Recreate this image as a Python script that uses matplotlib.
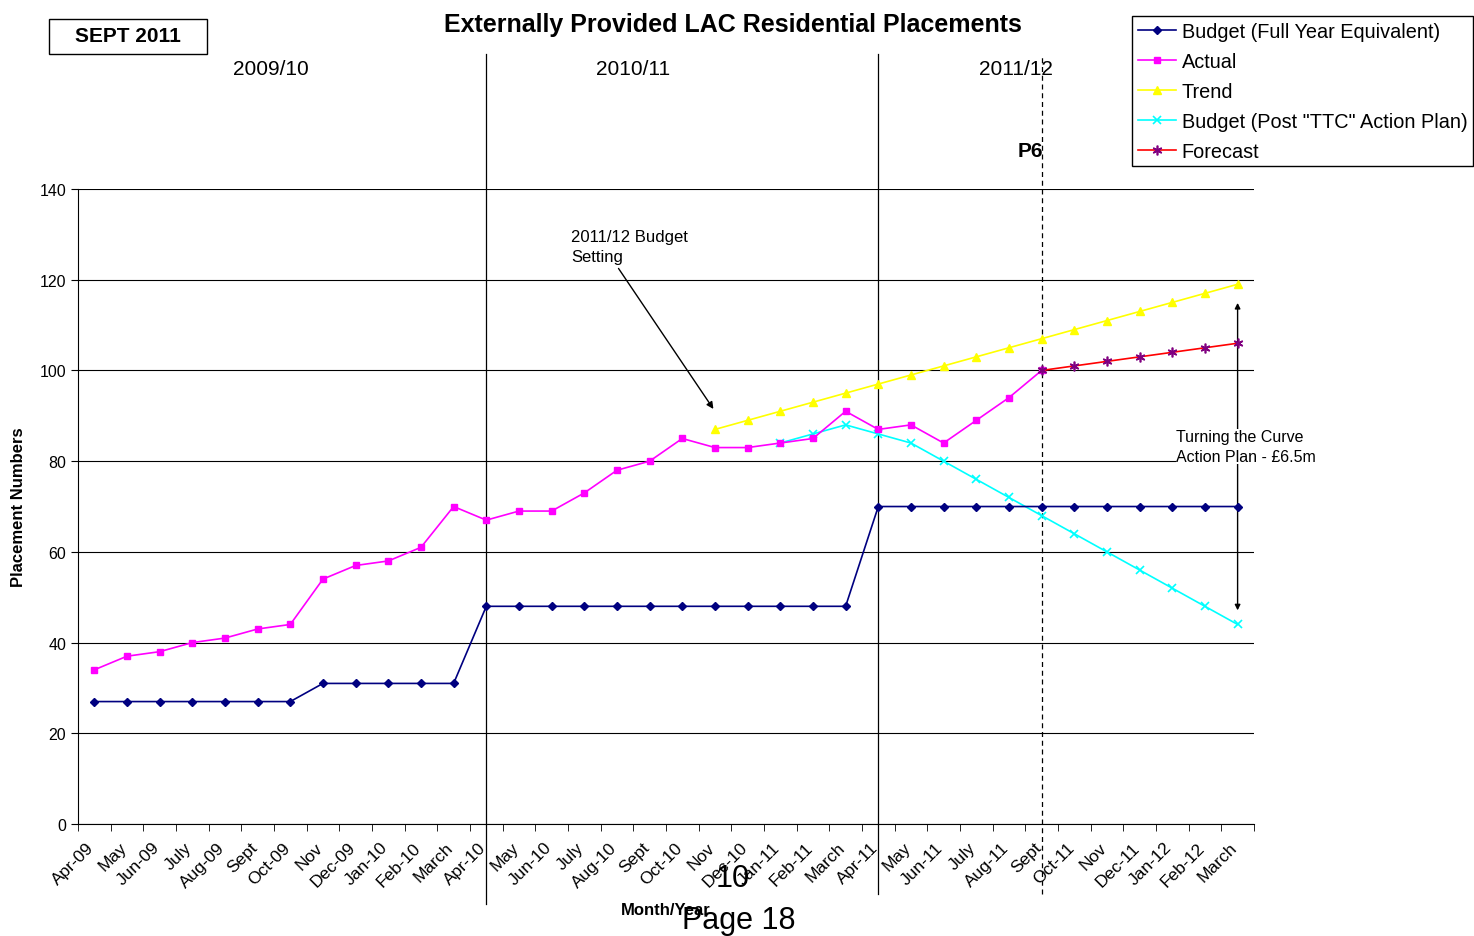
#! /usr/bin/env python3

import numpy as np
import matplotlib.pyplot as plt
import matplotlib.transforms as mtransforms
from matplotlib.patches import Rectangle

plt.rcParams['font.family'] = ['Liberation Sans', 'DejaVu Sans']

# Data
months = ['Apr-09', 'May', 'Jun-09', 'July', 'Aug-09', 'Sept', 'Oct-09', 'Nov',
          'Dec-09', 'Jan-10', 'Feb-10', 'March', 'Apr-10', 'May', 'Jun-10', 'July',
          'Aug-10', 'Sept', 'Oct-10', 'Nov', 'Dec-10', 'Jan-11', 'Feb-11', 'March',
          'Apr-11', 'May', 'Jun-11', 'July', 'Aug-11', 'Sept', 'Oct-11', 'Nov',
          'Dec-11', 'Jan-12', 'Feb-12', 'March']
budget = [27, 27, 27, 27, 27, 27, 27, 31, 31, 31, 31, 31,
          48, 48, 48, 48, 48, 48, 48, 48, 48, 48, 48, 48,
          70, 70, 70, 70, 70, 70, 70, 70, 70, 70, 70, 70]
actual = [34, 37, 38, 40, 41, 43, 44, 54, 57, 58, 61, 70,
          67, 69, 69, 73, 78, 80, 85, 83, 83, 84, 85, 91,
          87, 88, 84, 89, 94, 100]
trend_start = 19
trend = [87, 89, 91, 93, 95, 97, 99, 101, 103, 105, 107, 109, 111, 113, 115, 117, 119]
ttc_start = 21
ttc = [84, 86, 88, 86, 84, 80, 76, 72, 68, 64, 60, 56, 52, 48, 44]
forecast_start = 29
forecast = [100, 101, 102, 103, 104, 105, 106]

year_labels = ['2009/10', '2010/11', '2011/12']

fig = plt.figure(figsize=(14.74, 9.37), dpi=100)
ax = fig.add_axes([0.0529, 0.1195, 0.7978, 0.6777])

x = np.arange(len(months))

ax.plot(x, budget, color='#000080', marker='D', markersize=4, linewidth=1.2,
        label='Budget (Full Year Equivalent)', zorder=5)
ax.plot(x[:len(actual)], actual, color='#FF00FF', marker='s', markersize=5, linewidth=1.2,
        label='Actual', zorder=5)
ax.plot(x[trend_start:trend_start + len(trend)], trend, color='#FFFF00', marker='^',
        markersize=6, linewidth=1.2, label='Trend', zorder=4)
ax.plot(x[ttc_start:ttc_start + len(ttc)], ttc, color='#00FFFF', marker='x',
        markersize=6, markeredgewidth=1.2, linewidth=1.2,
        label='Budget (Post "TTC" Action Plan)', zorder=4)
ax.plot(x[forecast_start:forecast_start + len(forecast)], forecast, color='#FF0000',
        marker=(6, 2, 0), markersize=7, markeredgecolor='#800080', markeredgewidth=1.2,
        linewidth=1.2, label='Forecast', zorder=6)

# Axes
ax.set_xlim(-0.5, len(months) - 0.5)
ax.set_ylim(0, 140)
ax.set_yticks(np.arange(0, 141, 20))
ax.yaxis.grid(True, color='black', linewidth=0.8)
ax.set_axisbelow(True)
for s in ['top', 'right']:
    ax.spines[s].set_visible(False)

ax.set_xticks(x)
ax.set_xticklabels(months, rotation=45, ha='right', rotation_mode='anchor', fontsize=12.5)
ax.set_xticks(np.arange(-0.5, len(months)), minor=True)
ax.tick_params(axis='x', which='major', length=0, pad=11)
ax.tick_params(axis='x', which='minor', length=5, direction='out')
ax.tick_params(axis='y', labelsize=11.5, length=5, direction='out')
shift = mtransforms.ScaledTranslation(-0.08, 0, fig.dpi_scale_trans)
for lbl in ax.get_xticklabels():
    lbl.set_transform(lbl.get_transform() + shift)

ax.set_ylabel('Placement Numbers', fontsize=12, fontweight='bold', labelpad=10)
ax.text(0.5, -0.135, 'Month/Year', transform=ax.transAxes, fontsize=12,
        fontweight='bold', ha='center', va='center')

# Year separators
ax.axvline(12, ymin=-0.126, ymax=1.213, color='black', linewidth=0.9, clip_on=False)
ax.axvline(24, ymin=-0.110, ymax=1.213, color='black', linewidth=0.9, clip_on=False)
ax.axvline(29, ymin=-0.110, ymax=1.213, color='black', linewidth=0.9,
           linestyle=(0, (4, 3)), clip_on=False)
for lab, xp in zip(year_labels, [5.4, 16.5, 28.2]):
    ax.text(xp, 1.19, lab, transform=ax.get_xaxis_transform(), fontsize=15,
            ha='center', va='center')
ax.text(28.65, 1.06, 'P6', transform=ax.get_xaxis_transform(), fontsize=15,
        fontweight='bold', ha='center', va='center')

# Annotations
ax.annotate('', xy=(19, 91), xytext=(16, 123),
            arrowprops=dict(arrowstyle='-|>', color='black', lw=1, mutation_scale=10))
ax.text(14.6, 123.5, '2011/12 Budget\nSetting', fontsize=12, ha='left', va='bottom',
        linespacing=1.4)
ax.annotate('', xy=(35, 46.5), xytext=(35, 115.5),
            arrowprops=dict(arrowstyle='<|-|>', color='black', lw=1, mutation_scale=8))
ax.text(33.1, 83.3, 'Turning the Curve\nAction Plan - £6.5m', fontsize=11.5, ha='left',
        va='center', linespacing=1.45,
        bbox=dict(facecolor='white', edgecolor='none', pad=0), zorder=7)

# Title and page texts
fig.text(0.497, 0.973, 'Externally Provided LAC Residential Placements', fontsize=18,
         fontweight='bold', ha='center', va='center')
fig.add_artist(Rectangle((49 / 1474, 1 - 55 / 937), 158 / 1474, 35 / 937,
                         transform=fig.transFigure, facecolor='white',
                         edgecolor='black', linewidth=1))
fig.text(128 / 1474, 1 - 37 / 937, 'SEPT 2011', fontsize=15, fontweight='bold',
         ha='center', va='center')
fig.text(0.497, 0.062, '10', fontsize=22, ha='center', va='center')
fig.text(0.501, 0.017, 'Page 18', fontsize=22, ha='center', va='center')

# Legend
fig.legend(loc='upper left', bbox_to_anchor=(0.768, 0.982), fontsize=14.3,
           frameon=True, fancybox=False, edgecolor='black', framealpha=1,
           borderaxespad=0, handlelength=1.9, handletextpad=0.3, labelspacing=0.55,
           borderpad=0.3)

fig.savefig('out.png', dpi=100)
